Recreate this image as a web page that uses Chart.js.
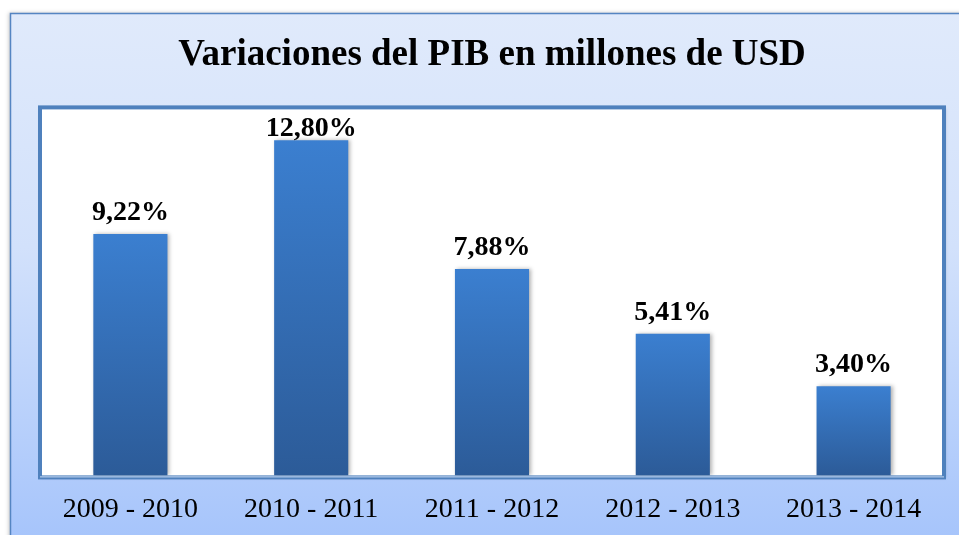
<!DOCTYPE html>
<html>
<head>
<meta charset="utf-8">
<script src="https://cdn.jsdelivr.net/npm/chart.js@4.4.1/dist/chart.umd.min.js"></script>
<style>
  html, body { margin: 0; padding: 0; background: #ffffff; }
  #wrap { width: 959px; height: 535px; position: relative; }
</style>
</head>
<body>
<div id="wrap"><canvas id="pib_chart" width="959" height="535"></canvas></div>
<script>
// datos del grafico
const periodos = ["2009 - 2010", "2010 - 2011", "2011 - 2012", "2012 - 2013", "2013 - 2014"];
const variaciones = [9.22, 12.80, 7.88, 5.41, 3.40];
const titulo = "Variaciones del PIB en millones de USD";

function formatoPct(v) {
    return v.toFixed(2).replace(".", ",") + "%";
}

// fondo: marco exterior con degradado y marco del area de trazado
const fondoPlugin = {
    id: "fondo",
    beforeDraw(chart) {
        const ctx = chart.ctx;
        const area = chart.chartArea;
        ctx.save();
        // marco exterior
        let g = ctx.createLinearGradient(0, 13, 0, chart.height);
        g.addColorStop(0, "#e0eafb");
        g.addColorStop(0.45, "#d2e1fb");
        g.addColorStop(1, "#a7c5fb");
        ctx.shadowColor = "rgba(0,0,0,0.25)";
        ctx.shadowBlur = 4;
        ctx.shadowOffsetX = -1;
        ctx.fillStyle = g;
        ctx.fillRect(10, 13, chart.width, chart.height);
        ctx.shadowColor = "transparent";
        ctx.strokeStyle = "#5585c2";
        ctx.lineWidth = 1.5;
        ctx.strokeRect(10.5, 13.5, chart.width, chart.height);

        // marco del area
        ctx.shadowColor = "rgba(0,0,0,0.3)";
        ctx.shadowBlur = 3;
        ctx.shadowOffsetX = 1;
        ctx.shadowOffsetY = 1;
        ctx.fillStyle = "#ffffff";
        ctx.fillRect(area.left, area.top - 4, area.right - area.left, area.bottom - area.top + 6);
        ctx.shadowColor = "transparent";
        ctx.strokeStyle = "#4f81bd";
        ctx.lineWidth = 4;
        ctx.strokeRect(area.left, area.top - 4, area.right - area.left, area.bottom - area.top + 6);
        ctx.restore();
    },
    beforeDatasetsDraw(chart) {
        const ctx = chart.ctx;
        ctx.save();
        ctx.shadowColor = "rgba(0,0,0,0.3)";
        ctx.shadowBlur = 4;
        ctx.shadowOffsetX = 2;
    },
    afterDatasetsDraw(chart) {
        const ctx = chart.ctx;
        ctx.restore();
        const area = chart.chartArea;
        // linea base
        ctx.save();
        ctx.strokeStyle = "#c9dbf5";
        ctx.lineWidth = 1;
        ctx.beginPath();
        ctx.moveTo(area.left, area.bottom + 1.5);
        ctx.lineTo(area.right, area.bottom + 1.5);
        ctx.stroke();
        ctx.restore();
    }
};

// etiquetas de valor sobre cada barra
const etiquetasPlugin = {
    id: "etiquetas",
    afterDraw(chart) {
        const ctx = chart.ctx;
        const meta = chart.getDatasetMeta(0);
        const area = chart.chartArea;
        ctx.save();
        ctx.font = "bold 28px 'Liberation Serif', 'Times New Roman', serif";
        ctx.fillStyle = "#000000";
        ctx.textAlign = "center";
        ctx.textBaseline = "alphabetic";
        meta.data.forEach(function (bar, i) {
            let y = Math.max(bar.y - 14, area.top + 25);
            ctx.fillText(formatoPct(variaciones[i]), bar.x, y);
        });
        ctx.restore();
    }
};

new Chart("pib_chart", {
    type: "bar",
    data: {
        labels: periodos,
        datasets: [{
            label: "Variacion PIB",
            data: variaciones,
            borderWidth: 0,
            backgroundColor: function (context) {
                const chart = context.chart;
                const area = chart.chartArea;
                if (!area || context.raw == null) return "#3a7dcc";
                const yTop = chart.scales.y.getPixelForValue(context.raw);
                const g = chart.ctx.createLinearGradient(0, yTop, 0, area.bottom);
                g.addColorStop(0, "#3b7fd0");
                g.addColorStop(1, "#2c5b98");
                return g;
            },
            barPercentage: 0.41,
            categoryPercentage: 1.0
        }]
    },
    options: {
        responsive: false,
        animation: false,
        layout: {
            padding: { top: 13, left: 40, right: 15, bottom: 0 }
        },
        plugins: {
            legend: { display: false },
            tooltip: { enabled: false },
            title: {
                display: true,
                text: titulo,
                color: "#000000",
                font: { family: "'Liberation Serif', 'Times New Roman', serif", size: 37, weight: "bold" },
                padding: { top: 20, bottom: 34 }
            }
        },
        scales: {
            x: {
                grid: { display: false },
                border: { display: false },
                ticks: {
                    color: "#000000",
                    padding: 9,
                    font: { family: "'Liberation Serif', 'Times New Roman', serif", size: 28 }
                }
            },
            y: {
                display: false,
                min: 0,
                max: 13.9
            }
        }
    },
    plugins: [fondoPlugin, etiquetasPlugin]
});
</script>
</body>
</html>
